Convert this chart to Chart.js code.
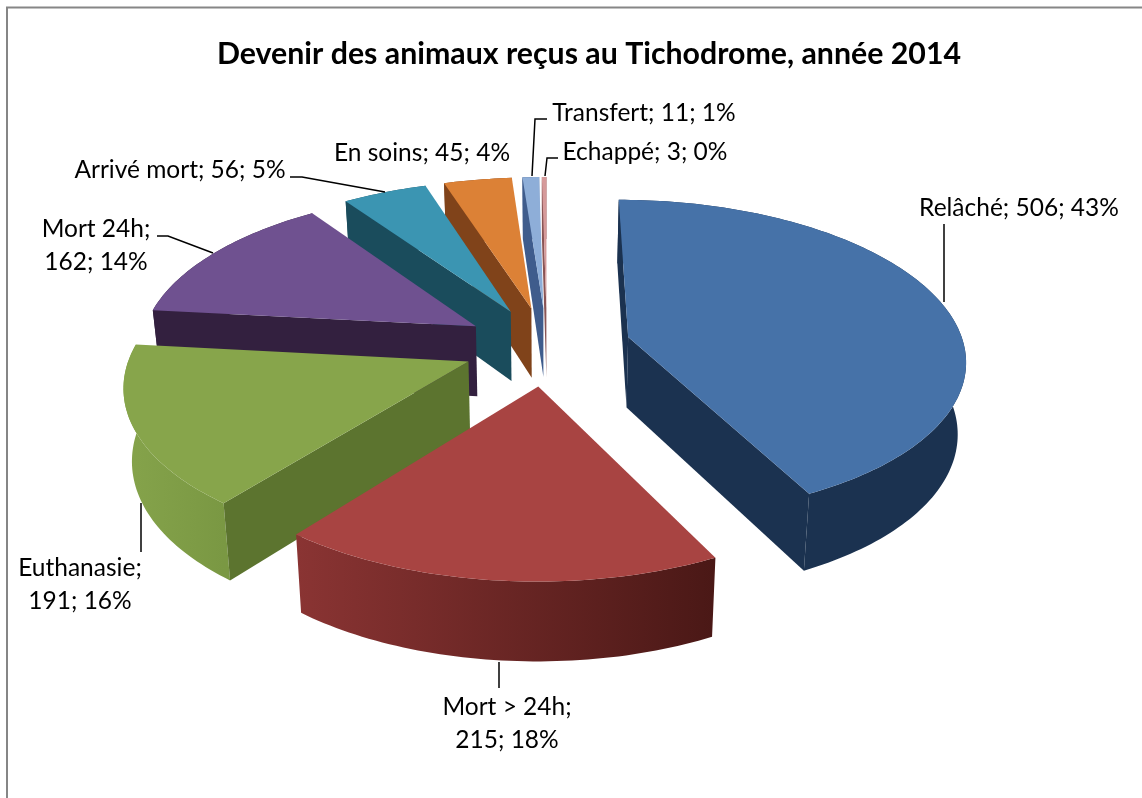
<!DOCTYPE html>
<html><head><meta charset="utf-8">
<style>html,body{margin:0;padding:0;background:#fff}canvas{display:block}</style>
<script src="https://cdn.jsdelivr.net/npm/chart.js@4"></script>
</head><body><canvas id="c" width="1142" height="798"></canvas>
<script>
const categories = ['Relâché','Mort > 24h','Euthanasie','Mort 24h','Arrivé mort','En soins','Transfert','Echappé'];
const values = [506,215,191,162,56,45,11,3];
const percents = [43,18,16,14,5,4,1,0];
const topColors = ['#4672a8','#a84442','#87a54b','#6f5190','#3b95b2','#dc8136','#8eaed8','#d69a9a'];
const radialColors = ['#1b3250','#5a1d1b','#5c742f','#33203f','#1a4c5c','#80431a','#3f5c8c','#8a5555'];
const wallStart = ['#1b3250','#4a1816','#7a9843','#33203f','#1a4c5c','#80431a','#3f5c8c','#8a5555'];
const wallEnd = ['#1b3250','#8a3433','#84a24a','#33203f','#1a4c5c','#80431a','#3f5c8c','#8a5555'];
const paintOrder = [7,6,5,4,3,2,0,1];
const labelLayout = [
 {i:0,x:1019,y:208,split:false},{i:1,x:507,y:707,split:true},{i:2,x:80,y:568,split:true},
 {i:3,x:96,y:229,split:true},{i:4,x:180,y:170,split:false},{i:5,x:422,y:153,split:false},
 {i:6,x:644,y:113,split:false},{i:7,x:645,y:152,split:false}];
const leaders = [
 [[944,224],[944,302]],[[499,662],[499,688]],[[141,503],[141,552]],
 [[157,236],[168,236],[213,253]],[[290,177],[302,177],[385,192]],
 [[532,176],[535,119],[547,119]],[[545,176],[547,158],[558,158]]];
const VIEW = {cx:547,cy:346,rx:336,ry:157.5,k:0.132,depth:71,shrink:0.98};
const LABEL_FONT = '24.5px Lato, Carlito, sans-serif';
const TITLE_SIZE = 30.3;

function project(wx,wy,low){
  const s = 1/(1-VIEW.k*wy);
  let x = VIEW.rx*wx*s, y = VIEW.ry*wy*s;
  if(low){ x*=VIEW.shrink; y+=VIEW.depth*(1+0.1*wy); }
  return [VIEW.cx+x, VIEW.cy+y];
}
function poly(ctx,pts,fill){
  ctx.beginPath(); pts.forEach((p,i)=>i?ctx.lineTo(p[0],p[1]):ctx.moveTo(p[0],p[1]));
  ctx.closePath(); ctx.fillStyle=fill; ctx.fill();
}
const pie3d = {
  id:'pie3d',
  beforeDatasetsDraw(chart){
    const ctx=chart.ctx, meta=chart.getDatasetMeta(0);
    paintOrder.forEach(i=>{
      const a=meta.data[i], o=a.options;
      const p=a.getProps(['startAngle','endAngle','outerRadius'],true);
      const mid=(p.startAngle+p.endAngle)/2, e=(o.offset/4)/p.outerRadius;
      const ax=Math.cos(mid)*e, ay=Math.sin(mid)*e;
      const pt=(ang,low)=>project(ax+Math.cos(ang),ay+Math.sin(ang),low);
      const apex=project(ax,ay,false), apexL=project(ax,ay,true);
      const n=Math.max(6,Math.ceil((p.endAngle-p.startAngle)/0.02));
      const angs=[]; for(let j=0;j<=n;j++) angs.push(p.startAngle+(p.endAngle-p.startAngle)*j/n);
      // outer wall, one shape with a smooth shade along the rim
      const s0=pt(p.startAngle), s1=pt(p.endAngle);
      const g=ctx.createLinearGradient(s0[0],0,s1[0]+(s1[0]===s0[0]?1:0),0);
      g.addColorStop(0,wallStart[i]); g.addColorStop(1,wallEnd[i]);
      poly(ctx,angs.map(x=>pt(x)).concat(angs.slice().reverse().map(x=>pt(x,true))),g);
      // radial walls: only those facing the viewer
      const m=pt(mid);
      [p.startAngle,p.endAngle].forEach(ang=>{
        const q=pt(ang);
        const dx=q[0]-apex[0]; if(Math.abs(dx)<1e-6) return;
        const lineY=apex[1]+(q[1]-apex[1])*(m[0]-apex[0])/dx;
        if(m[1]<lineY) poly(ctx,[apex,q,pt(ang,true),apexL],radialColors[i]);
      });
      // top
      poly(ctx,[apex].concat(angs.map(x=>pt(x))),topColors[i]);
    });
    return false;
  },
  afterDraw(chart){
    const ctx=chart.ctx;
    ctx.save();
    ctx.strokeStyle='#868686'; ctx.lineWidth=2;
    ctx.beginPath(); ctx.moveTo(7,798); ctx.lineTo(7,7.5); ctx.lineTo(1142,7.5); ctx.stroke();
    ctx.strokeStyle='#000'; ctx.lineWidth=1.5;
    leaders.forEach(l=>{ctx.beginPath();l.forEach((q,j)=>j?ctx.lineTo(q[0],q[1]):ctx.moveTo(q[0],q[1]));ctx.stroke();});
    ctx.fillStyle='#000'; ctx.font=LABEL_FONT; ctx.textAlign='center'; ctx.textBaseline='middle';
    labelLayout.forEach(l=>{
      const a=categories[l.i]+';', b=values[l.i]+'; '+percents[l.i]+'%';
      if(l.split){ctx.fillText(a,l.x,l.y);ctx.fillText(b,l.x,l.y+33);}
      else ctx.fillText(a+' '+b,l.x,l.y);
    });
    ctx.restore();
  }
};
new Chart(document.getElementById('c'),{
  type:'pie',
  data:{labels:categories,datasets:[{data:values,backgroundColor:topColors,offset:232,borderWidth:0}]},
  plugins:[pie3d],
  options:{
    responsive:false,animation:false,
    layout:{padding:{left:36,top:22,bottom:20}},
    plugins:{
      legend:{display:false},tooltip:{enabled:false},
      title:{display:true,text:'Devenir des animaux reçus au Tichodrome, année 2014',color:'#000',
        font:{family:'Lato, Carlito, sans-serif',size:TITLE_SIZE,weight:'bold'},padding:{top:14,bottom:10}}
    }
  }
});
</script></body></html>
